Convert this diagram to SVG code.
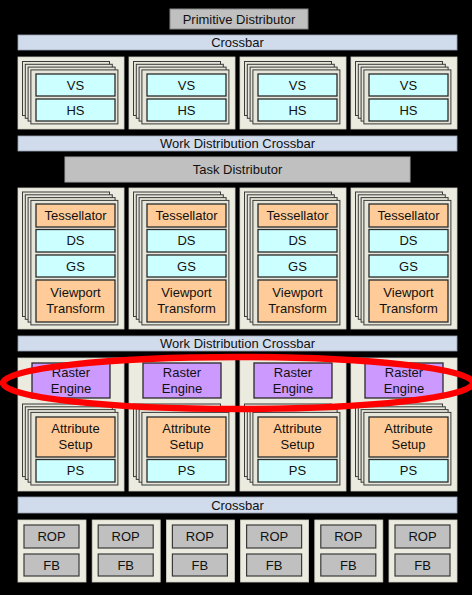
<svg xmlns="http://www.w3.org/2000/svg" xmlns:xlink="http://www.w3.org/1999/xlink" width="472" height="595" viewBox="0 0 472 595">
<style>
.bg{fill:#000}
.panel{fill:#ebebdf;stroke:#d0d0c4;stroke-width:0.8}
.card{fill:#e6e6da;stroke:#3a3a3a;stroke-width:1}
.bar{fill:#d0dbec;stroke:#9aa4b4;stroke-width:0.8}
.gray{fill:#c0c0c0;stroke:#8a8a8a;stroke-width:1}
.rop{fill:#c0c0c0;stroke:#3a3a3a;stroke-width:1.2}
.cy{fill:#ccffff;stroke:#2a2a2a;stroke-width:1.3}
.pe{fill:#ffcc99;stroke:#2a2a2a;stroke-width:1.3}
.la{fill:#cc99ff;stroke:#2a2a2a;stroke-width:1.3}
text{font-family:"Liberation Sans",Arial,sans-serif;font-size:13px;fill:#111;text-anchor:middle}
</style>
<defs>
<g id="stk-vs">
<rect class="card" x="4.5" y="4.5" width="87" height="54"/>
<rect class="card" x="7.3" y="7.3" width="87" height="54"/>
<rect class="card" x="10.1" y="10.1" width="87" height="54"/>
<rect class="card" x="12.9" y="12.9" width="87" height="54"/>
</g>
<g id="stk-tess">
<rect class="card" x="4.5" y="4.5" width="87" height="124.5"/>
<rect class="card" x="7.3" y="7.3" width="87" height="124.5"/>
<rect class="card" x="10.1" y="10.1" width="87" height="124.5"/>
<rect class="card" x="12.9" y="12.9" width="87" height="124.5"/>
</g>
<g id="stk-ras">
<rect class="card" x="4.5" y="4.5" width="87" height="72.6"/>
<rect class="card" x="7.3" y="7.3" width="87" height="72.6"/>
<rect class="card" x="10.1" y="10.1" width="87" height="72.6"/>
<rect class="card" x="12.9" y="12.9" width="87" height="72.6"/>
</g>
</defs>
<rect class="bg" x="0" y="0" width="472" height="595"/>

<g id="primitive-distributor">
<rect class="gray" x="170" y="9" width="138" height="20"/>
<text x="239" y="23.5">Primitive Distributor</text>
</g>
<g id="crossbar-top">
<rect class="bar" x="18" y="35" width="439" height="15"/>
<text x="237.5" y="47">Crossbar</text>
</g>

<g id="vs-hs-1">
<rect class="panel" x="18" y="57" width="106" height="72"/>
<use xlink:href="#stk-vs" x="18" y="57"/>
<rect class="cy" x="36" y="74" width="79" height="22"/><text x="75.5" y="89.5">VS</text>
<rect class="cy" x="36" y="99" width="79" height="22"/><text x="75.5" y="114.5">HS</text>
</g>
<g id="vs-hs-2">
<rect class="panel" x="129" y="57" width="106" height="72"/>
<use xlink:href="#stk-vs" x="129" y="57"/>
<rect class="cy" x="147" y="74" width="79" height="22"/><text x="186.5" y="89.5">VS</text>
<rect class="cy" x="147" y="99" width="79" height="22"/><text x="186.5" y="114.5">HS</text>
</g>
<g id="vs-hs-3">
<rect class="panel" x="240" y="57" width="106" height="72"/>
<use xlink:href="#stk-vs" x="240" y="57"/>
<rect class="cy" x="258" y="74" width="79" height="22"/><text x="297.5" y="89.5">VS</text>
<rect class="cy" x="258" y="99" width="79" height="22"/><text x="297.5" y="114.5">HS</text>
</g>
<g id="vs-hs-4">
<rect class="panel" x="351" y="57" width="106" height="72"/>
<use xlink:href="#stk-vs" x="351" y="57"/>
<rect class="cy" x="369" y="74" width="79" height="22"/><text x="408.5" y="89.5">VS</text>
<rect class="cy" x="369" y="99" width="79" height="22"/><text x="408.5" y="114.5">HS</text>
</g>

<g id="work-distribution-crossbar-1">
<rect class="bar" x="18" y="136" width="439" height="15"/>
<text x="237.5" y="148">Work Distribution Crossbar</text>
</g>
<g id="task-distributor">
<rect class="gray" x="65" y="157" width="345" height="25" style="stroke:#a8a8a8"/>
<text x="237.5" y="174">Task Distributor</text>
</g>

<g id="tess-1">
<rect class="panel" x="18" y="188" width="106" height="141"/>
<use xlink:href="#stk-tess" x="18" y="187.5"/>
<rect class="pe" x="36" y="204" width="79" height="23"/><text x="75.5" y="220">Tessellator</text>
<rect class="cy" x="36" y="229.5" width="79" height="22.5"/><text x="75.5" y="245.3">DS</text>
<rect class="cy" x="36" y="255" width="79" height="22"/><text x="75.5" y="270.6">GS</text>
<rect class="pe" x="36" y="280" width="79" height="42"/><text x="75.5" y="297.3">Viewport</text><text x="75.5" y="313">Transform</text>
</g>
<g id="tess-2">
<rect class="panel" x="129" y="188" width="106" height="141"/>
<use xlink:href="#stk-tess" x="129" y="187.5"/>
<rect class="pe" x="147" y="204" width="79" height="23"/><text x="186.5" y="220">Tessellator</text>
<rect class="cy" x="147" y="229.5" width="79" height="22.5"/><text x="186.5" y="245.3">DS</text>
<rect class="cy" x="147" y="255" width="79" height="22"/><text x="186.5" y="270.6">GS</text>
<rect class="pe" x="147" y="280" width="79" height="42"/><text x="186.5" y="297.3">Viewport</text><text x="186.5" y="313">Transform</text>
</g>
<g id="tess-3">
<rect class="panel" x="240" y="188" width="106" height="141"/>
<use xlink:href="#stk-tess" x="240" y="187.5"/>
<rect class="pe" x="258" y="204" width="79" height="23"/><text x="297.5" y="220">Tessellator</text>
<rect class="cy" x="258" y="229.5" width="79" height="22.5"/><text x="297.5" y="245.3">DS</text>
<rect class="cy" x="258" y="255" width="79" height="22"/><text x="297.5" y="270.6">GS</text>
<rect class="pe" x="258" y="280" width="79" height="42"/><text x="297.5" y="297.3">Viewport</text><text x="297.5" y="313">Transform</text>
</g>
<g id="tess-4">
<rect class="panel" x="351" y="188" width="106" height="141"/>
<use xlink:href="#stk-tess" x="351" y="187.5"/>
<rect class="pe" x="369" y="204" width="79" height="23"/><text x="408.5" y="220">Tessellator</text>
<rect class="cy" x="369" y="229.5" width="79" height="22.5"/><text x="408.5" y="245.3">DS</text>
<rect class="cy" x="369" y="255" width="79" height="22"/><text x="408.5" y="270.6">GS</text>
<rect class="pe" x="369" y="280" width="79" height="42"/><text x="408.5" y="297.3">Viewport</text><text x="408.5" y="313">Transform</text>
</g>

<g id="work-distribution-crossbar-2">
<rect class="bar" x="18" y="336" width="439" height="15"/>
<text x="237.5" y="348">Work Distribution Crossbar</text>
</g>

<g id="raster-1">
<rect class="panel" x="18" y="358" width="106" height="133"/>
<rect class="la" x="32" y="363" width="78" height="35"/><text x="71" y="377">Raster</text><text x="71" y="393">Engine</text>
<use xlink:href="#stk-ras" x="18" y="399.5"/>
<rect class="pe" x="36" y="417" width="79" height="40"/><text x="75.5" y="433">Attribute</text><text x="75.5" y="449">Setup</text>
<rect class="cy" x="36" y="459.5" width="79" height="22.5"/><text x="75.5" y="474.6">PS</text>
</g>
<g id="raster-2">
<rect class="panel" x="129" y="358" width="106" height="133"/>
<rect class="la" x="143" y="363" width="78" height="35"/><text x="182" y="377">Raster</text><text x="182" y="393">Engine</text>
<use xlink:href="#stk-ras" x="129" y="399.5"/>
<rect class="pe" x="147" y="417" width="79" height="40"/><text x="186.5" y="433">Attribute</text><text x="186.5" y="449">Setup</text>
<rect class="cy" x="147" y="459.5" width="79" height="22.5"/><text x="186.5" y="474.6">PS</text>
</g>
<g id="raster-3">
<rect class="panel" x="240" y="358" width="106" height="133"/>
<rect class="la" x="254" y="363" width="78" height="35"/><text x="293" y="377">Raster</text><text x="293" y="393">Engine</text>
<use xlink:href="#stk-ras" x="240" y="399.5"/>
<rect class="pe" x="258" y="417" width="79" height="40"/><text x="297.5" y="433">Attribute</text><text x="297.5" y="449">Setup</text>
<rect class="cy" x="258" y="459.5" width="79" height="22.5"/><text x="297.5" y="474.6">PS</text>
</g>
<g id="raster-4">
<rect class="panel" x="351" y="358" width="106" height="133"/>
<rect class="la" x="365" y="363" width="78" height="35"/><text x="404" y="377">Raster</text><text x="404" y="393">Engine</text>
<use xlink:href="#stk-ras" x="351" y="399.5"/>
<rect class="pe" x="369" y="417" width="79" height="40"/><text x="408.5" y="433">Attribute</text><text x="408.5" y="449">Setup</text>
<rect class="cy" x="369" y="459.5" width="79" height="22.5"/><text x="408.5" y="474.6">PS</text>
</g>

<g id="crossbar-bottom">
<rect class="bar" x="18" y="497" width="439" height="16"/>
<text x="237.5" y="509.5">Crossbar</text>
</g>

<g id="rop-1">
<rect class="panel" x="18" y="520" width="68" height="62"/>
<rect class="rop" x="24" y="525" width="55" height="23"/><text x="51.5" y="541">ROP</text>
<rect class="rop" x="24" y="554" width="55" height="22"/><text x="51.5" y="569.6">FB</text>
</g>
<g id="rop-2">
<rect class="panel" x="92.2" y="520" width="68" height="62"/>
<rect class="rop" x="98.2" y="525" width="55" height="23"/><text x="125.7" y="541">ROP</text>
<rect class="rop" x="98.2" y="554" width="55" height="22"/><text x="125.7" y="569.6">FB</text>
</g>
<g id="rop-3">
<rect class="panel" x="166.4" y="520" width="68" height="62"/>
<rect class="rop" x="172.4" y="525" width="55" height="23"/><text x="199.9" y="541">ROP</text>
<rect class="rop" x="172.4" y="554" width="55" height="22"/><text x="199.9" y="569.6">FB</text>
</g>
<g id="rop-4">
<rect class="panel" x="240.6" y="520" width="68" height="62"/>
<rect class="rop" x="246.6" y="525" width="55" height="23"/><text x="274.1" y="541">ROP</text>
<rect class="rop" x="246.6" y="554" width="55" height="22"/><text x="274.1" y="569.6">FB</text>
</g>
<g id="rop-5">
<rect class="panel" x="314.8" y="520" width="68" height="62"/>
<rect class="rop" x="320.8" y="525" width="55" height="23"/><text x="348.3" y="541">ROP</text>
<rect class="rop" x="320.8" y="554" width="55" height="22"/><text x="348.3" y="569.6">FB</text>
</g>
<g id="rop-6">
<rect class="panel" x="389" y="520" width="68" height="62"/>
<rect class="rop" x="395" y="525" width="55" height="23"/><text x="422.5" y="541">ROP</text>
<rect class="rop" x="395" y="554" width="55" height="22"/><text x="422.5" y="569.6">FB</text>
</g>

<g id="connectors"></g>

<g id="highlight">
<ellipse cx="238" cy="383" rx="235" ry="26" fill="none" stroke="#ff0000" stroke-width="6.5"/>
</g>
</svg>
